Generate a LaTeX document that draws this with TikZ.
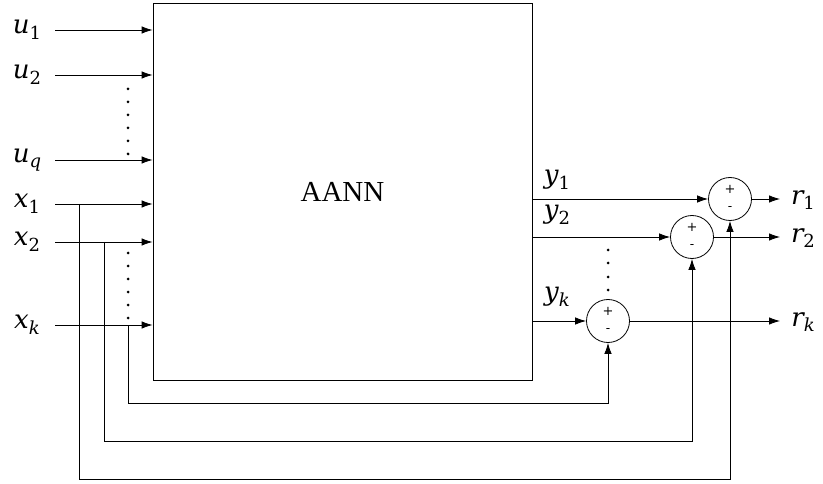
\documentclass[tikz,border=0pt]{standalone}
\usepackage{fontspec}
\setmainfont{Liberation Serif}
\newfontfamily\lf{DejaVu Serif}
\usetikzlibrary{arrows.meta,calc}
\newcommand{\lbl}[2]{{\lf\fontsize{26}{26}\selectfont\itshape #1\raisebox{-0.22em}{\fontsize{18}{18}\selectfont #2}}}
\begin{document}
\begin{tikzpicture}[x=1pt,y=-1pt,
  every path/.style={line width=0.8pt},
  arr/.style={-{Latex[length=11pt,width=7.5pt]}},
  sumj/.style={circle,draw,minimum size=43pt,inner sep=0pt},
  lab/.style={inner sep=0pt},
  sgn/.style={inner sep=0pt,font=\lf\fontsize{13}{13}\selectfont},
  dotm/.style={fill=black}]
\useasboundingbox (0,0) rectangle (823,484);
% main block
\node[draw,minimum width=379pt,minimum height=377pt,inner sep=0pt,
      font=\fontsize{29}{29}\selectfont] (box) at (342.5,191.5) {AANN};
% input labels
\node[lab] (u1) at (27,30) {\lbl{u}{\upshape 1}};
\node[lab] (u2) at (27,75) {\lbl{u}{\upshape 2}};
\node[lab] (uq) at (27,160) {\lbl{u}{q}};
\node[lab] (x1) at (27,204) {\lbl{x}{\upshape 1}};
\node[lab] (x2) at (27,242) {\lbl{x}{\upshape 2}};
\node[lab] (xk) at (27,325) {\lbl{x}{k}};
% input arrow starts
\coordinate (su1) at (55,30);
\coordinate (su2) at (55,75);
\coordinate (suq) at (55,160);
\coordinate (sx1) at (55,204);
\coordinate (sx2) at (55,242);
\coordinate (sxk) at (55,325);
\foreach \c in {su1,su2,suq,sx1,sx2,sxk}
  \draw[arr] (\c) -- (\c -| box.west);
% dots
\foreach \y in {89,102,115,128,141,154} \fill[dotm] (128,\y) circle (1.5pt);
\foreach \y in {253,266,279,292,305,318} \fill[dotm] (128,\y) circle (1.5pt);
\foreach \y in {250,263,277,290} \fill[dotm] (608,\y) circle (1.5pt);
% summing junctions
\node[sumj] (s1) at (730,199) {};
\node[sumj] (s2) at (692,237) {};
\node[sumj] (sk) at (608,321) {};
\foreach \s in {s1,s2,sk}{
  \node[sgn] at ($(\s)+(0,-10)$) {+};
  \node[sgn] at ($(\s)+(0,10)$) {-};
}
% outputs of block
\draw[arr] (box.east |- s1) -- (s1.west);
\draw[arr] (box.east |- s2) -- (s2.west);
\draw[arr] (box.east |- sk) -- (sk.west);
\node[lab] (y1) at (557,180) {\lbl{y}{\upshape 1}};
\node[lab] (y2) at (557,215) {\lbl{y}{\upshape 2}};
\node[lab] (yk) at (557,297) {\lbl{y}{k}};
% residual outputs
\coordinate (e1) at (780,199);
\coordinate (e2) at (780,237);
\coordinate (ek) at (780,321);
\draw[arr] (s1.east) -- (e1);
\draw[arr] (s2.east) -- (e2);
\draw[arr] (sk.east) -- (ek);
\node[lab] (r1) at (803,200) {\lbl{r}{\upshape 1}};
\node[lab] (r2) at (803,238) {\lbl{r}{\upshape 2}};
\node[lab] (rk) at (803,322) {\lbl{r}{k}};
% feedback loops
\coordinate (b1) at (79,204);
\coordinate (b2) at (104,242);
\coordinate (bk) at (128,325);
\coordinate (l1) at (79,479);
\coordinate (l2) at (104,441);
\coordinate (lk) at (128,403);
\draw[arr] (b1) -- (l1) -- (l1 -| s1) -- (s1.south);
\draw[arr] (b2) -- (l2) -- (l2 -| s2) -- (s2.south);
\draw[arr] (bk) -- (lk) -- (lk -| sk) -- (sk.south);
\end{tikzpicture}
\end{document}
